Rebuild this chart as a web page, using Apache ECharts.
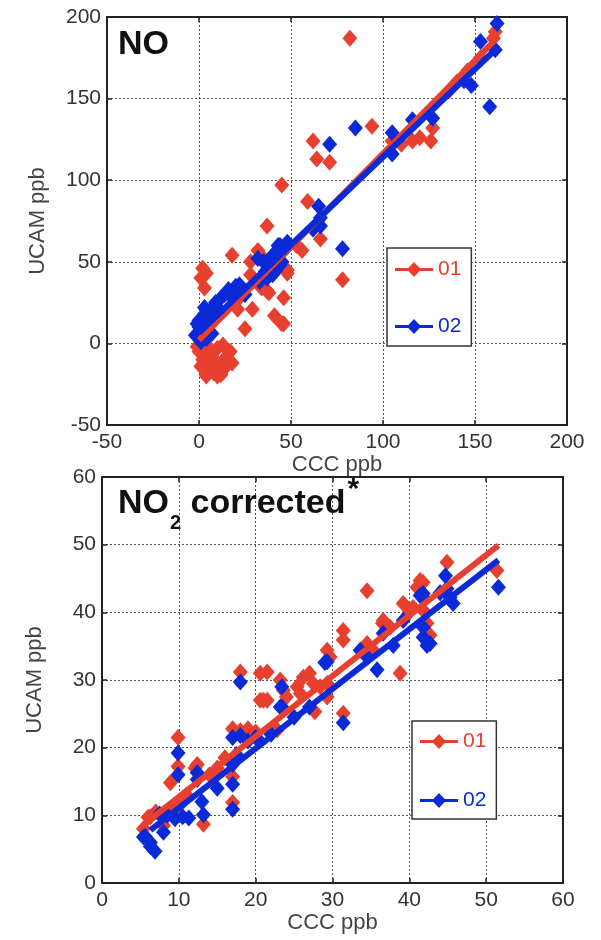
<!DOCTYPE html>
<html>
<head>
<meta charset="utf-8">
<script src="https://cdn.jsdelivr.net/npm/echarts@6/dist/echarts.min.js"></script>
<style>html,body{margin:0;padding:0;background:#fff}#c{width:601px;height:940px}</style>
</head>
<body>
<div id="c"></div>
<script>
// ---- Data: NO panel ----
const noRed = [[82,187],[62,124],[94,133],[64,113],[71,111],[45,97],[59,87],[116,124],[126,124],[127,132],[105,124],[153,175],[160,187],[161,191],[146,167],[78,39],[46,28],[46,12],[66,64],[53,60],[48,43],[37,72],[37,32],[2,46],[1,40],[3,34],[4,43],[18,54],[32,57],[28,50],[35,52],[28,42],[34,34],[38,31],[41,17],[45,12],[21,21],[29,21],[25,9],[22,28],[0,-5],[2,-10],[5,-15],[8,-18],[10,-20],[12,-12],[15,-8],[5,-2],[10,-3],[17,-5],[14,-15],[3,-12],[7,-7],[-1,-2],[12,-19],[4,-20],[9,-11],[1,-14],[6,-6],[13,-1],[18,-12],[48,45],[56,57],[110,122],[120,126],[140,160],[136,155]];
const noBlue = [[162,196],[153,185],[161,180],[148,158],[158,145],[144,161],[127,138],[116,137],[105,129],[105,116],[85,132],[71,122],[65,84],[78,58],[45,58],[44,48],[66,77],[66,72],[44,60],[37,50],[40,42],[33,38],[-2,5],[0,10],[0,14],[2,8],[3,18],[5,12],[6,20],[8,15],[9,25],[10,22],[12,28],[14,30],[4,3],[1,1],[7,6],[22,36],[25,30],[32,52],[35,50],[38,48],[40,54],[42,45],[45,50],[36,44],[43,60],[47,58],[48,62],[62,70],[37,40],[-1,12],[3,22],[11,18],[16,33],[20,35],[18,28]];
const noRedFit = [[0,2],[161,186]];
const noBlueFit = [[0,6.5],[162,181]];

// ---- Data: NO2 corrected panel ----
const no2Red = [[18,31.2],[20.6,31],[20.6,27],[9.9,21.5],[9.9,17.2],[8.9,14.8],[12.4,17.5],[17,22.8],[18,22.5],[19,22.8],[20,22.3],[17,15.7],[17,11.9],[13.2,8.7],[6.3,9.8],[5.4,8],[8,8.5],[6,9.7],[12.1,17],[21.9,22.2],[22.8,22.6],[21.5,27],[24,27.5],[34.5,43.2],[41.4,44.7],[41,43.7],[39.2,41.3],[40,40],[36.6,38.8],[37.5,37.8],[38.8,31],[31.4,37.3],[31.4,35.9],[29.3,34.4],[29.7,33.4],[34.5,35.4],[35.3,34.4],[21.5,31.2],[23.2,30],[23.6,28.5],[21,27],[26.2,30.4],[27,31],[27.5,29.5],[28.4,29],[29.3,29.5],[29.3,27.5],[27.7,25.3],[31.4,25.1],[25.4,29],[25.8,28],[44.9,47.4],[51.4,46.2],[41.8,44.4],[40.5,40.7],[42.7,36.6],[36.5,38.4],[10.5,12],[11,13],[9.5,11],[7,10.5],[15,17],[16,18.5],[14,16],[42.3,38.4],[41.8,40.3]];
const no2Blue = [[18,29.7],[9.9,19.2],[9.9,16],[12.4,16.3],[17,21.5],[18,21.8],[19,21],[20,21.5],[17,14.6],[17,10.9],[17,17.5],[13.2,10.1],[7.5,10.2],[8.5,10],[9.5,9.5],[10.5,9.8],[11.3,9.6],[5.4,6.8],[6.3,5.4],[6.9,4.7],[5.6,6.9],[6.3,6],[8,7.5],[12.4,15.3],[23.4,26],[41.4,42.5],[42,42],[39.2,38.8],[36.6,36.9],[37.9,35.1],[41.8,37.8],[42.7,35.4],[29.3,32.7],[33.6,34.4],[34.5,33.4],[35.8,31.5],[23.4,29],[23.2,26],[31.4,23.7],[44.7,45.4],[51.6,43.7],[41.8,42.8],[44,42.9],[44.9,43.5],[45.3,42.2],[45.7,41.3],[41.8,36.3],[42.3,35.1],[29,32.6],[17.5,19],[20.5,21],[22,22],[25,24.5],[27,26],[13,12],[15,14]];
const no2RedFit = [[5.5,8.7],[51.6,49.9]];
const no2BlueFit = [[6.3,7.8],[51.6,47.7]];

const seriesNames = ['01','02'];
const noXRange = [-50, 200, 50];
const noYRange = [-50, 200, 50];
const no2XRange = [0, 60, 10];
const no2YRange = [0, 60, 10];
const xName = 'CCC ppb';
const yName = 'UCAM ppb';

const RED = '#E8402F';
const BLUE = '#0A2AD8';
const FONT = '"Liberation Sans", Arial, sans-serif';
const legendIcon = 'path://M0,6.5L14,6.5L20,0L26,6.5L40,6.5L40,9.5L26,9.5L20,16L14,9.5L0,9.5Z';

const chart = echarts.init(document.getElementById('c'), null, {renderer: 'canvas'});

function axesFor(gridIndex, range, isX, name, nameGap, labelMargin) {
  const split = {show: true, lineStyle: {color: '#555', width: 1, type: [2, 2]}};
  const main = {
    type: 'value', gridIndex, min: range[0], max: range[1], interval: range[2],
    position: isX ? 'bottom' : 'left',
    name, nameLocation: 'middle', nameGap,
    nameTextStyle: {fontFamily: FONT, fontSize: 22, color: '#444'},
    axisLine: {show: true, onZero: false, lineStyle: {color: '#222', width: 2}},
    axisTick: {show: true, inside: true, length: 5, lineStyle: {color: '#222', width: 1.5}},
    axisLabel: {fontFamily: FONT, fontSize: 21, color: '#333', margin: labelMargin},
    splitLine: split
  };
  const opp = {
    type: 'value', gridIndex, min: range[0], max: range[1], interval: range[2],
    position: isX ? 'top' : 'right',
    axisLine: {show: true, onZero: false, lineStyle: {color: '#222', width: 2}},
    axisTick: {show: true, inside: true, length: 5, lineStyle: {color: '#222', width: 1.5}},
    axisLabel: {show: false},
    splitLine: {show: false}
  };
  return [main, opp];
}

const xAxes = [...axesFor(0, noXRange, true, xName, 24, 7), ...axesFor(1, no2XRange, true, xName, 28, 7)];
const yAxes = [...axesFor(0, noYRange, false, yName, 58, 6), ...axesFor(1, no2YRange, false, yName, 56, 6)];

function scatter(name, data, color, xi, yi) {
  return {type: 'scatter', name, data, xAxisIndex: xi, yAxisIndex: yi, symbol: 'diamond',
    symbolSize: [15, 17], itemStyle: {color, opacity: 1}, silent: true};
}
function fit(name, data, color, xi, yi) {
  return {type: 'line', name, data, xAxisIndex: xi, yAxisIndex: yi, symbol: 'none',
    lineStyle: {color, width: 6}, itemStyle: {color}, silent: true};
}

const legendStyle = (left, top, pad, gap) => ({
  orient: 'vertical', left, top, padding: pad, itemGap: gap,
  itemWidth: 38, itemHeight: 16, itemTextGap: 1, selectedMode: false,
  borderColor: '#333', borderWidth: 1.5, backgroundColor: '#fff',
  textStyle: {fontFamily: FONT, fontSize: 21},
  data: [
    {name: seriesNames[0], icon: legendIcon, itemStyle: {color: RED}, textStyle: {color: RED}},
    {name: seriesNames[1], icon: legendIcon, itemStyle: {color: BLUE}, textStyle: {color: BLUE}}
  ]
});

const option = {
  backgroundColor: '#fff',
  animation: false,
  title: [
    {text: 'NO', left: 113, top: 20,
     textStyle: {fontFamily: FONT, fontSize: 34, fontWeight: 'bold', color: '#111', lineHeight: 40}},
    {text: '{b|NO}{s|2}{b| corrected}{a|*}', left: 113, top: 482,
     textStyle: {rich: {
       b: {fontFamily: FONT, fontSize: 34, fontWeight: 'bold', color: '#111', lineHeight: 40, verticalAlign: 'top'},
       s: {fontFamily: FONT, fontSize: 20, fontWeight: 'bold', color: '#111', lineHeight: 20, verticalAlign: 'top', padding: [26, 0, 0, 1]},
       a: {fontFamily: FONT, fontSize: 30, color: '#111', lineHeight: 30, verticalAlign: 'top', padding: [-12, 0, 0, 2]}
     }}}
  ],
  grid: [
    {left: 107, right: 34, top: 17, height: 408, containLabel: false},
    {left: 102, right: 38, top: 477, height: 406, containLabel: false}
  ],
  xAxis: xAxes,
  yAxis: yAxes,
  legend: [
    legendStyle(387, 248, [11, 10, 9, 8], 36),
    legendStyle(412, 721, [10, 10, 8, 8], 38)
  ],
  series: [
    scatter(seriesNames[0], noRed, RED, 0, 0),
    fit(seriesNames[0], noRedFit, RED, 0, 0),
    scatter(seriesNames[1], noBlue, BLUE, 0, 0),
    fit(seriesNames[1], noBlueFit, BLUE, 0, 0),
    scatter(seriesNames[0], no2Red, RED, 2, 2),
    fit(seriesNames[0], no2RedFit, RED, 2, 2),
    scatter(seriesNames[1], no2Blue, BLUE, 2, 2),
    fit(seriesNames[1], no2BlueFit, BLUE, 2, 2)
  ]
};
chart.setOption(option);
</script>
</body>
</html>
